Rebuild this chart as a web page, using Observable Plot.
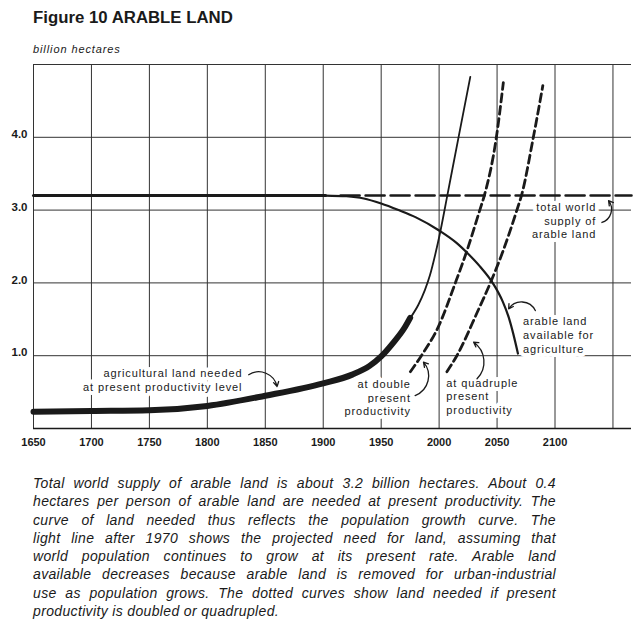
<!DOCTYPE html>
<html><head><meta charset="utf-8">
<script src="https://cdn.jsdelivr.net/npm/d3@7"></script>
<script src="https://cdn.jsdelivr.net/npm/@observablehq/plot@0.6"></script>
<style>
html,body{margin:0;padding:0;background:#fff;}
body{width:634px;height:638px;position:relative;overflow:hidden;font-family:"Liberation Sans",Arial,Helvetica,sans-serif;color:#1a1a1a;}
#title{position:absolute;left:33px;top:10px;font-size:16.8px;font-weight:bold;line-height:1;white-space:nowrap;}
#sub{position:absolute;left:33px;top:44px;font-size:11px;font-style:italic;line-height:1;letter-spacing:0.9px;white-space:nowrap;}
#chart{position:absolute;left:0;top:56px;}
#caption{position:absolute;left:33px;top:474px;width:523px;font-size:14px;font-style:italic;line-height:18.3px;letter-spacing:0.35px;}
#caption .ln{text-align:justify;text-align-last:justify;}
#caption .last{text-align:left;text-align-last:left;}
</style>
</head><body>
<div id="title">Figure 10 ARABLE LAND</div>
<div id="sub">billion hectares</div>
<div id="chart"></div>
<div id="caption"></div>
<script>
// ---- data ----
const gridYears = [1650, 1700, 1750, 1800, 1850, 1900, 1950, 2000, 2050, 2100, 2150];
const tickYears = [1650, 1700, 1750, 1800, 1850, 1900, 1950, 2000, 2050, 2100];
const gridValues = [1, 2, 3, 4, 5];
const tickValues = [1, 2, 3, 4];

// total world supply of arable land
const supplySolidYears = [1650, 1902];
const supplySolidValues = [3.2, 3.2];
const supplyDashYears = [1915, 2166];
const supplyDashValues = [3.2, 3.2];

// arable land available for agriculture
const arableYears = [1902, 1920, 1935, 1950, 1965, 1980, 2000, 2015, 2025, 2035, 2047, 2055, 2060, 2064, 2068];
const arableValues = [3.2, 3.19, 3.16, 3.09, 3.0, 2.9, 2.72, 2.55, 2.4, 2.23, 1.98, 1.74, 1.53, 1.3, 1.03];

// agricultural land needed at present productivity (historical, heavy line)
const neededYears = [1650, 1700, 1750, 1800, 1850, 1900, 1925, 1940, 1950, 1960, 1970, 1975];
const neededValues = [0.23, 0.24, 0.25, 0.31, 0.45, 0.62, 0.74, 0.86, 0.99, 1.17, 1.38, 1.52];

// projected need (light line after 1970)
const projYears = [1975.2, 1982.1, 1987.7, 1992.0, 1996.8, 2001.1, 2007.3, 2017.0, 2026.9];
const projValues = [1.52, 1.7, 1.9, 2.1, 2.4, 2.71, 3.22, 4.02, 4.83];

// at double present productivity
const doubleYears = [1975.2, 1984.7, 1999.4, 2014.0, 2023.1, 2035.1, 2039.0, 2049.4, 2055.4];
const doubleValues = [0.78, 1.0, 1.4, 2.0, 2.4, 3.0, 3.2, 4.0, 4.75];

// at quadruple present productivity
const quadYears = [2006.7, 2015.3, 2033.0, 2044.2, 2054.5, 2067.1, 2071.4, 2081.3, 2089.5];
const quadValues = [0.78, 1.0, 1.6, 2.0, 2.41, 3.0, 3.22, 4.0, 4.71];

// annotations
const noteText = [
  "agricultural land needed\nat present productivity level",
  "at double\npresent\nproductivity",
  "at quadruple\npresent\nproductivity",
  "arable land\navailable for\nagriculture",
  "total world\nsupply of\narable land"
];
const noteYear = [1830.3, 1975.6, 2006.2, 2072.4, 2135.6];
const noteValue = [0.673, 0.426, 0.449, 1.29, 2.86];
const noteAnchor = ["end", "end", "start", "start", "end"];

const arrowFromYear = [1835.7, 1979.3, 2032.7, 2083, 2140.5];
const arrowFromValue = [0.738, 0.453, 0.683, 1.62, 2.83];
const arrowToYear = [1860.2, 1986.5, 2029.8, 2060, 2146.2];
const arrowToValue = [0.577, 0.911, 1.185, 1.644, 3.13];
const arrowBend = [55, -55, -50, -60, -55];

const captionLines = [
  "Total world supply of arable land is about 3.2 billion hectares. About 0.4",
  "hectares per person of arable land are needed at present productivity. The",
  "curve of land needed thus reflects the population growth curve. The",
  "light line after 1970 shows the projected need for land, assuming that",
  "world population continues to grow at its present rate. Arable land",
  "available decreases because arable land is removed for urban-industrial",
  "use as population grows. The dotted curves show land needed if present",
  "productivity is doubled or quadrupled."
];

// ---- build ----
const pts = (xs, ys) => xs.map((x, i) => ({x, y: ys[i]}));
const notes = noteText.map((t, i) => ({text: t, x: noteYear[i], y: noteValue[i], anchor: noteAnchor[i]}));
const arrows = arrowFromYear.map((x, i) => ({x1: x, y1: arrowFromValue[i], x2: arrowToYear[i], y2: arrowToValue[i], bend: arrowBend[i]}));
const ink = "#1a1a1a";

const arrowMarks = arrows.map(a => Plot.arrow([a], {
  x1: "x1", y1: "y1", x2: "x2", y2: "y2", bend: a.bend,
  stroke: ink, strokeWidth: 1.3, headLength: 6
}));

const noteMarks = ["start", "end"].map(anchor => Plot.text(notes.filter(d => d.anchor === anchor), {
  x: "x", y: "y", text: "text", textAnchor: anchor, lineAnchor: "middle",
  lineHeight: 1.24, fontSize: 11, fontStyle: "normal", fill: ink,
  stroke: "white", strokeWidth: 8
}));

const chart = Plot.plot({
  width: 634, height: 400,
  marginLeft: 33, marginRight: 3, marginTop: 8, marginBottom: 28,
  x: {domain: [1650, 2166]},
  y: {domain: [0, 5]},
  style: {fontFamily: "'Liberation Sans', Arial, Helvetica, sans-serif", fontSize: "11px", color: ink, background: "white", overflow: "visible"},
  marks: [
    Plot.gridX(gridYears, {stroke: "#333", strokeOpacity: 1, strokeWidth: 1}),
    Plot.gridY(gridValues, {stroke: "#333", strokeOpacity: 1, strokeWidth: 1}),
    Plot.ruleY([0], {stroke: ink, strokeWidth: 1.6}),
    Plot.axisX(tickYears, {tickSize: 0, tickPadding: 10, fontWeight: "bold", fontSize: 11, tickFormat: d => String(d), label: null}),
    Plot.axisY(tickValues, {tickSize: 0, tickPadding: 6, dy: -3, fontWeight: "bold", fontSize: 11.5, tickFormat: d => d.toFixed(1), label: null}),
    Plot.line(pts(supplySolidYears, supplySolidValues), {x: "x", y: "y", stroke: ink, strokeWidth: 3}),
    Plot.line(pts(supplyDashYears, supplyDashValues), {x: "x", y: "y", stroke: ink, strokeWidth: 2.6, strokeDasharray: "19,6"}),
    Plot.line(pts(arableYears, arableValues), {x: "x", y: "y", stroke: ink, strokeWidth: 2.2, curve: "monotone-x"}),
    Plot.line(pts(doubleYears, doubleValues), {x: "x", y: "y", stroke: ink, strokeWidth: 2.8, strokeDasharray: "8,4.5", curve: "monotone-x"}),
    Plot.line(pts(quadYears, quadValues), {x: "x", y: "y", stroke: ink, strokeWidth: 2.8, strokeDasharray: "8,4.5", curve: "monotone-x"}),
    Plot.line(pts(projYears, projValues), {x: "x", y: "y", stroke: ink, strokeWidth: 1.8, curve: "monotone-x"}),
    Plot.line(pts(neededYears, neededValues), {x: "x", y: "y", stroke: ink, strokeWidth: 6, curve: "monotone-x"}),
    ...noteMarks,
    ...arrowMarks
  ]
});
chart.querySelectorAll('g[font-style="normal"]').forEach(g => { g.style.letterSpacing = "0.9px"; });
document.getElementById("chart").appendChild(chart);

const cap = document.getElementById("caption");
captionLines.forEach((t, i) => {
  const d = document.createElement("div");
  d.className = "ln" + (i === captionLines.length - 1 ? " last" : "");
  d.textContent = t;
  cap.appendChild(d);
});
</script>
</body></html>
